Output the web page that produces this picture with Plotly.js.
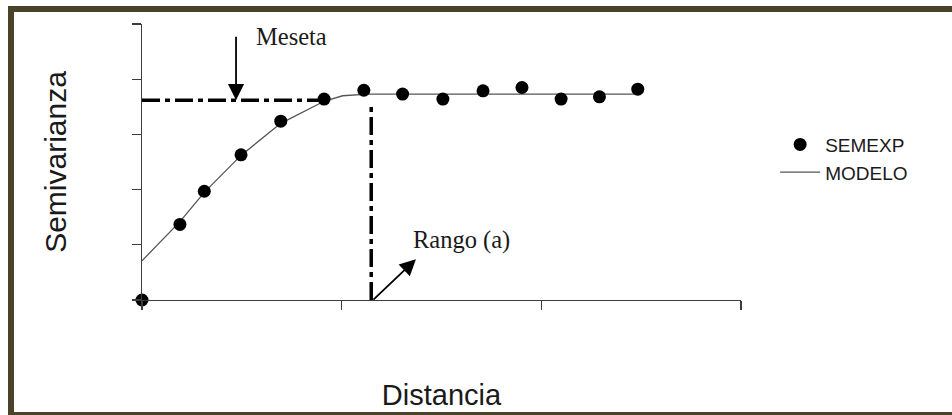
<!DOCTYPE html>
<html>
<head>
<meta charset="utf-8">
<script src="https://cdn.plot.ly/plotly-3.0.1.min.js"></script>
<style>
  html, body { margin: 0; padding: 0; background: #ffffff; }
  #chart { width: 952px; height: 415px; }
</style>
</head>
<body>
<div id="chart"></div>
<script>
// Experimental semivariogram points (SEMEXP)
const distancia = [0, 19.0, 31.2, 49.6, 69.5, 91.2, 111.1, 130.5, 150.7, 170.8, 190.3, 209.9, 229.1, 248.3];
const semexp    = [0, 1.37, 1.97, 2.63, 3.24, 3.64, 3.80, 3.73, 3.64, 3.79, 3.85, 3.64, 3.68, 3.82];

// Fitted model (MODELO)
const modeloX = [0, 19.0, 31.2, 49.6, 69.5, 91.2, 100.5, 113.0, 248.3];
const modeloY = [0.71, 1.42, 1.95, 2.62, 3.20, 3.60, 3.70, 3.73, 3.73];

// Sill (meseta) and range (rango) guide lines
const mesetaX = [0, 92];
const mesetaY = [3.62, 3.62];
const rangoX  = [114.8, 114.8];
const rangoY  = [0, 3.57];

// Axis ticks (no labels)
const xTicks = [0, 100, 200, 300];
const yTicks = [0, 1, 2, 3, 4, 5];

const axisColor = '#3c3c3c';
const dashDot = '18px,5px,5px,5px';

const traces = [
  { x: mesetaX, y: mesetaY, mode: 'lines', showlegend: false, hoverinfo: 'skip',
    line: { color: '#000000', width: 3.5, dash: dashDot } },
  { x: rangoX, y: rangoY, mode: 'lines', showlegend: false, hoverinfo: 'skip',
    line: { color: '#000000', width: 3.5, dash: dashDot } },
  { x: modeloX, y: modeloY, mode: 'lines', name: 'MODELO', legendrank: 2,
    line: { color: '#555555', width: 1.3 } },
  { x: distancia, y: semexp, mode: 'markers', name: 'SEMEXP', legendrank: 1,
    marker: { color: '#000000', size: 13 }, cliponaxis: false }
];

const layout = {
  width: 952, height: 415,
  margin: { l: 142, r: 211, t: 24, b: 115, pad: 0 },
  paper_bgcolor: '#ffffff', plot_bgcolor: '#ffffff',
  showlegend: true,
  legend: {
    x: 1.057, xanchor: 'left', y: 0.632, yanchor: 'top',
    itemwidth: 40,
    font: { family: 'Liberation Sans, Arial, sans-serif', size: 19, color: '#1a1a1a' },
    bgcolor: 'rgba(0,0,0,0)', borderwidth: 0, tracegroupgap: 0
  },
  xaxis: {
    range: [0, 300], tickvals: xTicks, showticklabels: false,
    ticks: 'outside', ticklen: 9, tickwidth: 1.2, tickcolor: axisColor,
    showline: true, linecolor: axisColor, linewidth: 1.3,
    showgrid: false, zeroline: false,
    title: { text: 'Distancia', standoff: 75,
      font: { family: 'Liberation Sans, Arial, sans-serif', size: 29, color: '#1a1a1a' } }
  },
  yaxis: {
    range: [0, 5], tickvals: yTicks, showticklabels: false,
    ticks: 'outside', ticklen: 9, tickwidth: 1.2, tickcolor: axisColor,
    showline: true, linecolor: axisColor, linewidth: 1.3,
    showgrid: false, zeroline: false,
    title: { text: 'Semivarianza', standoff: 56,
      font: { family: 'Liberation Sans, Arial, sans-serif', size: 30, color: '#1a1a1a' } }
  },
  annotations: [
    { x: 56.2, y: 4.77, xref: 'x', yref: 'y', text: 'Meseta', showarrow: false,
      xanchor: 'left', yanchor: 'middle',
      font: { family: 'Liberation Serif, Times New Roman, serif', size: 24.5, color: '#1a1a1a' } },
    { x: 47.1, y: 3.62, xref: 'x', yref: 'y', text: '', showarrow: true,
      ax: 0, ay: -65, arrowhead: 2, arrowsize: 1.8, arrowwidth: 1.8, arrowcolor: '#000000' },
    { x: 134.5, y: 1.09, xref: 'x', yref: 'y', text: 'Rango (a)', showarrow: false,
      xanchor: 'left', yanchor: 'middle',
      font: { family: 'Liberation Serif, Times New Roman, serif', size: 24.5, color: '#1a1a1a' } },
    { x: 137.2, y: 0.74, xref: 'x', yref: 'y', text: '', showarrow: true,
      ax: -44, ay: 42, arrowhead: 2, arrowsize: 1.8, arrowwidth: 1.8, arrowcolor: '#000000' }
  ],
  shapes: [
    // outer olive frame (left, top, bottom edges visible)
    { type: 'rect', xref: 'paper', yref: 'paper',
      x0: (11 - 142) / 599, x1: (975 - 142) / 599,
      y0: (300 - 415) / 276, y1: (300 - 9) / 276,
      line: { color: '#4b4329', width: 6 }, fillcolor: 'rgba(0,0,0,0)' }
  ]
};

Plotly.newPlot('chart', traces, layout, { displayModeBar: false, staticPlot: true });
</script>
</body>
</html>
